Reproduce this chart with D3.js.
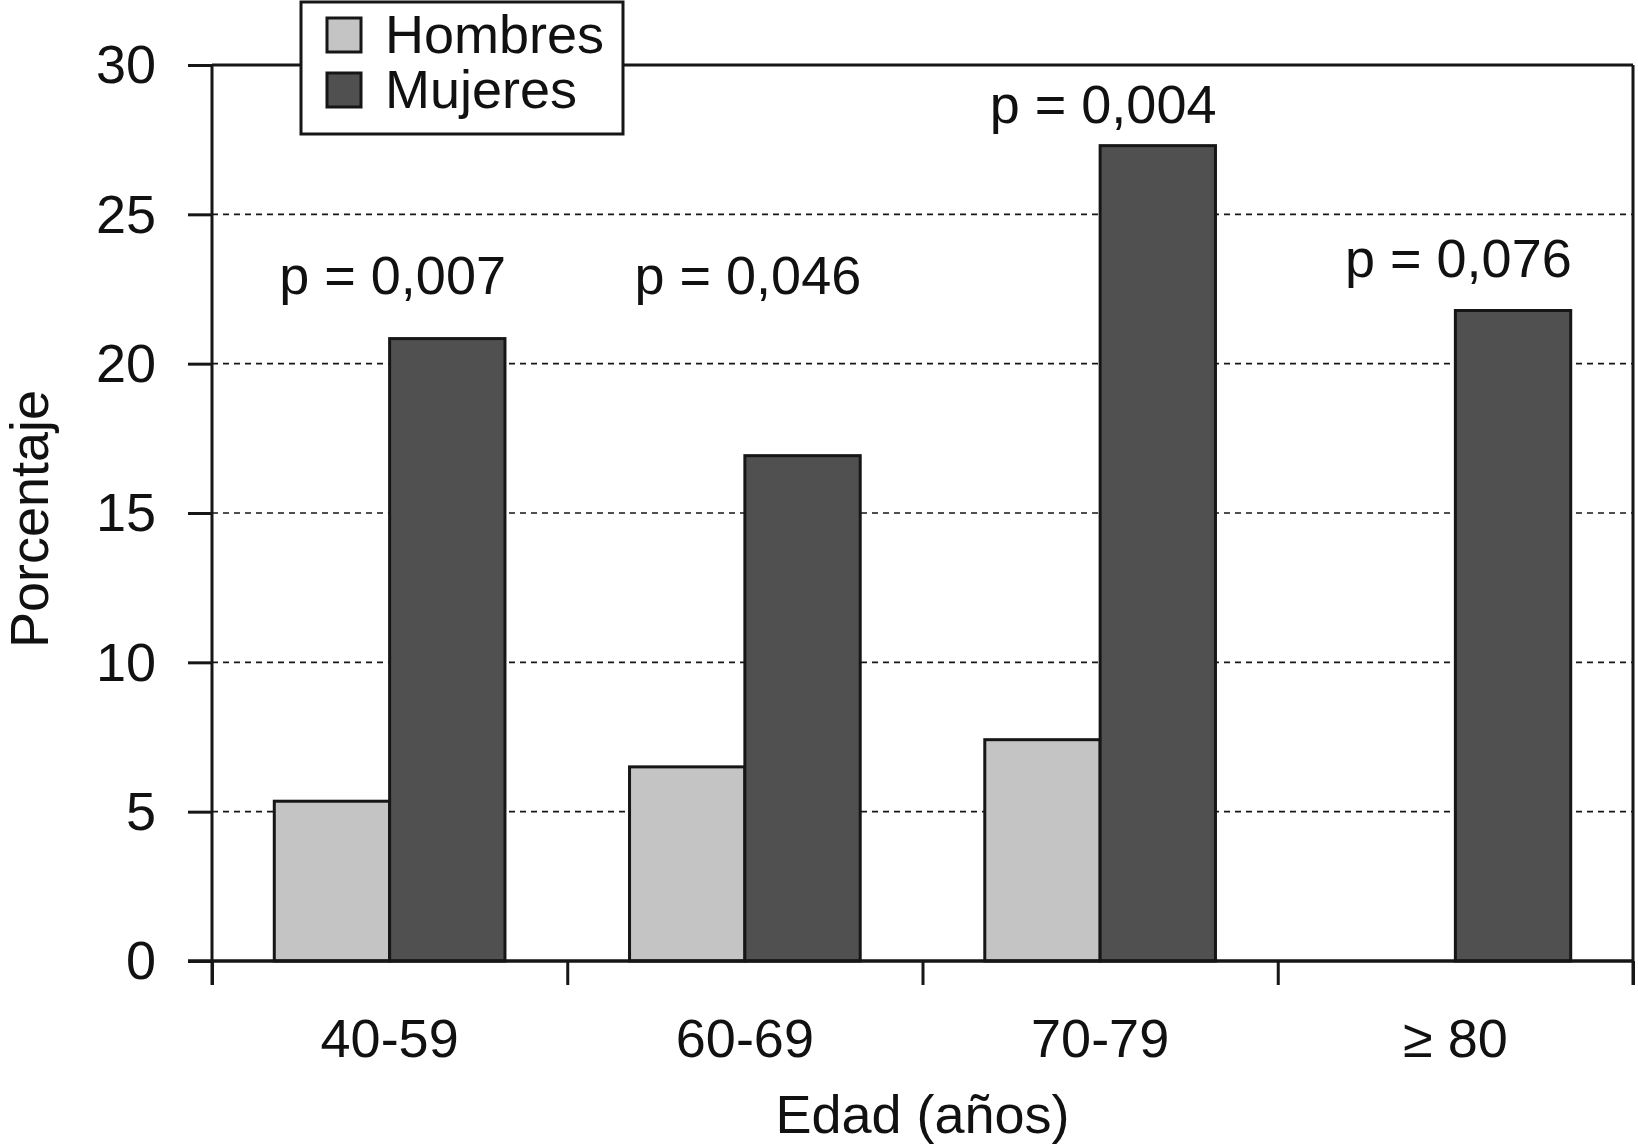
<!DOCTYPE html>
<html><head><meta charset="utf-8">
<script src="https://cdn.jsdelivr.net/npm/d3@7"></script>
<style>body{margin:0;background:#fff}svg{display:block}text{font-family:"Liberation Sans",Arial,sans-serif;fill:#111}</style>
</head><body>
<svg id="c" width="1638" height="1146"></svg>
<script>
const categories = ["40-59","60-69","70-79","\u2265 80"];
const series = ["Hombres","Mujeres"];
const hombres = [5.35, 6.5, 7.41, null];
const mujeres = [20.84, 16.92, 27.3, 21.78];
const yTicks = [0,5,10,15,20,25,30];
const pLabels = ["p = 0,007","p = 0,046","p = 0,004","p = 0,076"];
const pLabelAt = [22.33, 22.33, 28.06, 22.9];
const colors = {Hombres:"#c4c4c4", Mujeres:"#505050"};

const svg = d3.select("#c");
const L=212, R=1633, T=65, B=961;
const x = d3.scaleBand().domain(categories).range([L,R]).padding(0);
const x1 = d3.scaleBand().domain(series).range([0,x.bandwidth()]).paddingInner(0).paddingOuter(0.54);
const y = d3.scaleLinear().domain([0,30]).range([B,T]);
const ink="#161616";

// gridlines
svg.append("g").selectAll("line").data(yTicks.filter(t=>t>0&&t<30)).join("line")
  .attr("x1",L).attr("x2",R).attr("y1",d=>y(d)).attr("y2",d=>y(d))
  .attr("stroke",ink).attr("stroke-width",1.6).attr("stroke-dasharray","6,5");

// bars
const data = [];
categories.forEach((c,i)=>{
  if(hombres[i]!=null) data.push({c, s:"Hombres", v:hombres[i]});
  if(mujeres[i]!=null) data.push({c, s:"Mujeres", v:mujeres[i]});
});
svg.append("g").selectAll("rect").data(data).join("rect")
  .attr("x",d=>x(d.c)+x1(d.s)).attr("width",x1.bandwidth())
  .attr("y",d=>y(d.v)).attr("height",d=>y(0)-y(d.v))
  .attr("fill",d=>colors[d.s]).attr("stroke",ink).attr("stroke-width",3);

// y axis
const yAxis = d3.axisLeft(y).tickValues(yTicks).tickSize(24).tickPadding(32).tickFormat(d3.format("d"));
const gy = svg.append("g").attr("transform",`translate(${L},0)`).call(yAxis);
gy.select(".domain").remove();
gy.selectAll(".tick line").attr("stroke",ink).attr("stroke-width",3);
gy.selectAll(".tick text").attr("font-size",54).attr("fill","#111").attr("dy","0.33em")
  .attr("font-family","'Liberation Sans',Arial,sans-serif");
svg.append("line").attr("x1",L).attr("x2",L).attr("y1",T).attr("y2",B+24).attr("stroke",ink).attr("stroke-width",3);
svg.append("line").attr("x1",R).attr("x2",R).attr("y1",T).attr("y2",B+24).attr("stroke",ink).attr("stroke-width",3);
svg.append("line").attr("x1",L).attr("x2",R).attr("y1",T).attr("y2",T).attr("stroke",ink).attr("stroke-width",3);

// x axis
const xb = d3.scaleLinear().domain([0,categories.length]).range([L,R]);
const gx = svg.append("g").attr("transform",`translate(0,${B})`)
  .call(d3.axisBottom(xb).tickValues(d3.range(0,categories.length+1)).tickSize(24).tickFormat(""));
gx.select(".domain").remove();
gx.selectAll(".tick line").attr("stroke",ink).attr("stroke-width",3);
svg.append("line").attr("x1",L-24).attr("x2",R).attr("y1",B).attr("y2",B).attr("stroke",ink).attr("stroke-width",3.5);
svg.append("g").selectAll("text").data(categories).join("text")
  .attr("x",d=>x(d)+x.bandwidth()/2).attr("y",1057).attr("text-anchor","middle")
  .attr("font-size",54).text(d=>d);

// p labels
svg.append("g").selectAll("text").data(pLabels).join("text")
  .attr("x",(d,i)=>x(categories[i])+x.bandwidth()/2+3).attr("y",(d,i)=>y(pLabelAt[i]))
  .attr("text-anchor","middle").attr("font-size",54).text(d=>d);

// axis titles
svg.append("text").attr("x",(L+R)/2).attr("y",1133).attr("text-anchor","middle").attr("font-size",54).text("Edad (años)");
svg.append("text").attr("transform","translate(48,519) rotate(-90)").attr("text-anchor","middle").attr("font-size",54).text("Porcentaje");

// legend
const lg = svg.append("g");
lg.append("rect").attr("x",301).attr("y",2).attr("width",322).attr("height",132).attr("fill","#fff").attr("stroke",ink).attr("stroke-width",3);
series.forEach((s,i)=>{
  lg.append("rect").attr("x",327).attr("y",18+i*55).attr("width",34).attr("height",34)
    .attr("fill",colors[s]).attr("stroke",ink).attr("stroke-width",3);
  lg.append("text").attr("x",385).attr("y",53+i*55).attr("font-size",54).text(s);
});
</script>
</body></html>
